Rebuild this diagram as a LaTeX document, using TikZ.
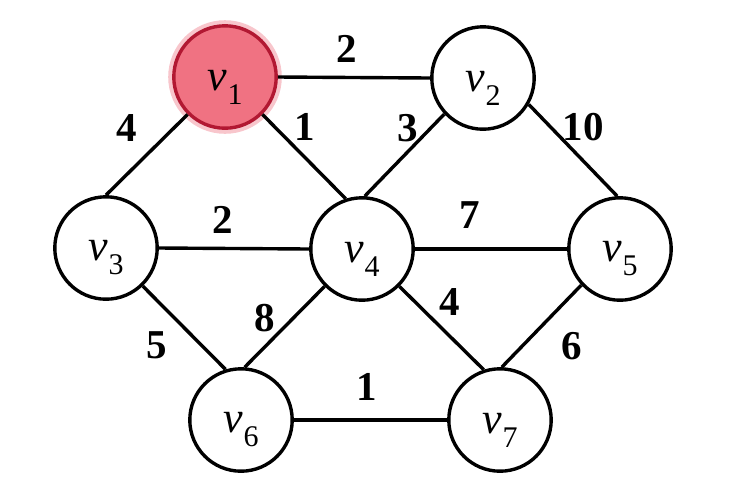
\documentclass[tikz,border=0pt]{standalone}
\usepackage{fontspec}
\setmainfont{Liberation Serif}
\definecolor{vfill}{RGB}{240,114,130}
\definecolor{vline}{RGB}{178,24,50}
\definecolor{vglow}{RGB}{244,160,170}
\newcommand\vsub[1]{\textit{v}\kern0.3pt\raisebox{-7pt}{\fontsize{15}{15}\selectfont #1}}
\begin{document}
\begin{tikzpicture}[x=0.5pt,y=-0.5pt,
  vert/.style={circle,draw=black,line width=1.7pt,minimum size=51.2pt,inner sep=0pt,fill=white},
  startvert/.style={vert,draw=vline,fill=vfill},
  vlab/.style={font=\fontsize{22}{26}\selectfont,inner sep=0pt,yshift=-5pt},
  wlab/.style={font=\fontsize{20.5}{24}\selectfont\bfseries,inner sep=0pt},
  edge/.style={line width=1.7pt,draw=black}]
\useasboundingbox[fill=white] (0,0) rectangle (751,500);
\fill[vglow,opacity=0.6] (225,77) circle (28.4pt);
\node[startvert] (v1) at (225,77) {};
\node[vert] (v2) at (483,78) {};
\node[vert] (v3) at (106,248) {};
\node[vert] (v4) at (362,249) {};
\node[vert] (v5) at (620,249) {};
\node[vert] (v6) at (241,420) {};
\node[vert] (v7) at (500,420) {};
\node[vlab] (t1) at (v1.center) {\vsub{1}};
\node[vlab] (t2) at (v2.center) {\vsub{2}};
\node[vlab] (t3) at (v3.center) {\vsub{3}};
\node[vlab] (t4) at (v4.center) {\vsub{4}};
\node[vlab] (t5) at (v5.center) {\vsub{5}};
\node[vlab] (t6) at (v6.center) {\vsub{6}};
\node[vlab] (t7) at (v7.center) {\vsub{7}};
\draw[edge] (v1.east) -- (v2.west);
\draw[edge] (v1.225) -- (v3.90);
\draw[edge] (v1.315) -- (v4.108);
\draw[edge] (v2.223) -- (v4.87);
\draw[edge] (v2.330) -- (v5.93);
\draw[edge] (v3.east) -- (v4.west);
\draw[edge] (v4.east) -- (v5.west);
\draw[edge] (v3.314) -- (v6.107);
\draw[edge] (v4.225) -- (v6.86);
\draw[edge] (v4.315) -- (v7.108);
\draw[edge] (v5.223) -- (v7.88);
\draw[edge] (v6.east) -- (v7.west);
\node[wlab] (w12) at (347,49) {2};
\node[wlab] (w13) at (127,128) {4};
\node[wlab] (w14) at (305,127) {1};
\node[wlab] (w24) at (408,128) {3};
\node[wlab] (w25) at (583,127) {10};
\node[wlab] (w34) at (223,220) {2};
\node[wlab] (w45) at (470,215) {7};
\node[wlab] (w36) at (157,345) {5};
\node[wlab] (w46) at (265,318) {8};
\node[wlab] (w47) at (450,302) {4};
\node[wlab] (w57) at (572,346) {6};
\node[wlab] (w67) at (367,387) {1};
\end{tikzpicture}
\end{document}
